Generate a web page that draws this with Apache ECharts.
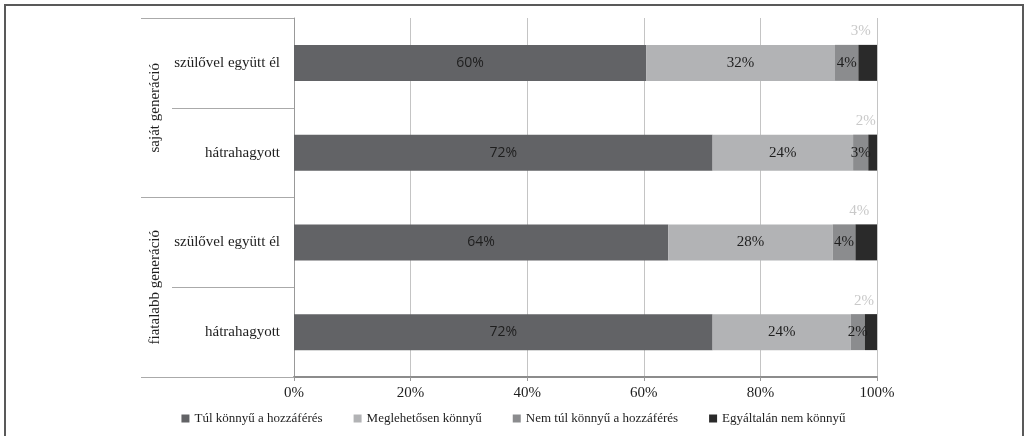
<!DOCTYPE html>
<html>
<head>
<meta charset="utf-8">
<script src="https://cdn.jsdelivr.net/npm/echarts@6/dist/echarts.min.js"></script>
<style>
  html, body { margin: 0; padding: 0; background: #fff; }
  #frame { position: absolute; left: 4px; top: 4px; width: 1020px; height: 460px; border: 2px solid #595959; box-sizing: border-box; }
  #chart { position: absolute; left: 0; top: 0; width: 1027px; height: 436px; }
</style>
</head>
<body>
<div id="frame"></div>
<div id="chart"></div>
<script>
// Data (shares in %, labels are the rounded values)
const categories = ["szülővel együtt él", "hátrahagyott", "szülővel együtt él", "hátrahagyott"];
const groups = ["saját generáció", "fiatalabb generáció"];
const seriesNames = ["Túl könnyű a hozzáférés", "Meglehetősen könnyű", "Nem túl könnyű a hozzáférés", "Egyáltalán nem könnyű"];
const tulKonnyu = [60.4, 71.8, 64.2, 71.8];
const meglehetosen = [32.4, 24.1, 28.2, 23.7];
const nemTul = [4.0, 2.6, 3.9, 2.4];
const egyaltalan = [3.2, 1.5, 3.7, 2.1];
const xTicks = [0, 20, 40, 60, 80, 100];

const raw = [tulKonnyu, meglehetosen, nemTul, egyaltalan];
const colors = ["#626366", "#b2b3b5", "#8b8c8e", "#2a2a2a"];
const serif = "Liberation Serif";

const series = raw.map((arr, k) => ({
  name: seriesNames[k],
  type: "bar",
  stack: "total",
  barWidth: 36,
  yAxisIndex: 0,
  itemStyle: { color: colors[k] },
  label: k === 3 ? {
    show: true, position: "top", distance: 6, offset: [-7, 0],
    color: "#c9c9c9", fontFamily: serif, fontSize: 15,
    formatter: p => Math.round(p.value) + "%"
  } : {
    show: true, position: "inside",
    color: "#1e1e1e", fontFamily: k === 0 ? "Open Sans" : serif, fontSize: k === 0 ? 14 : 15,
    formatter: p => Math.round(p.value) + "%"
  },
  data: arr
}));

const chart = echarts.init(document.getElementById("chart"));
chart.setOption({
  animation: false,
  grid: { left: 294, right: 150, top: 18, bottom: 59 },
  legend: {
    bottom: 6, left: "center",
    icon: "rect", itemWidth: 8, itemHeight: 8, itemGap: 31,
    textStyle: { fontFamily: serif, fontSize: 13, color: "#1e1e1e" },
    data: seriesNames
  },
  xAxis: {
    type: "value", min: 0, max: 100, interval: 20,
    axisLine: { show: true, lineStyle: { color: "#8c8c8c", width: 2 } },
    axisTick: { show: true, length: 4, lineStyle: { color: "#999" } },
    splitLine: { show: true, lineStyle: { color: "#c4c4c4", width: 1 } },
    axisLabel: { formatter: v => xTicks.includes(v) ? v + "%" : "", fontFamily: serif, fontSize: 15, color: "#1e1e1e", margin: 9 }
  },
  yAxis: [
    {
      type: "category", data: categories, inverse: true,
      axisLine: { show: true, lineStyle: { color: "#999", width: 1 } },
      axisTick: { show: true, length: 122, interval: 0, lineStyle: { color: "#aaa" } },
      axisLabel: { fontFamily: serif, fontSize: 15, color: "#1e1e1e", margin: 14 }
    },
    {
      type: "category", data: groups, inverse: true, position: "left", offset: 122,
      axisLine: { show: false },
      axisTick: { show: true, length: 31, interval: 0, lineStyle: { color: "#aaa" } },
      axisLabel: { rotate: 90, fontFamily: serif, fontSize: 15, color: "#1e1e1e", margin: 9 }
    }
  ],
  series: series
});
</script>
</body>
</html>
